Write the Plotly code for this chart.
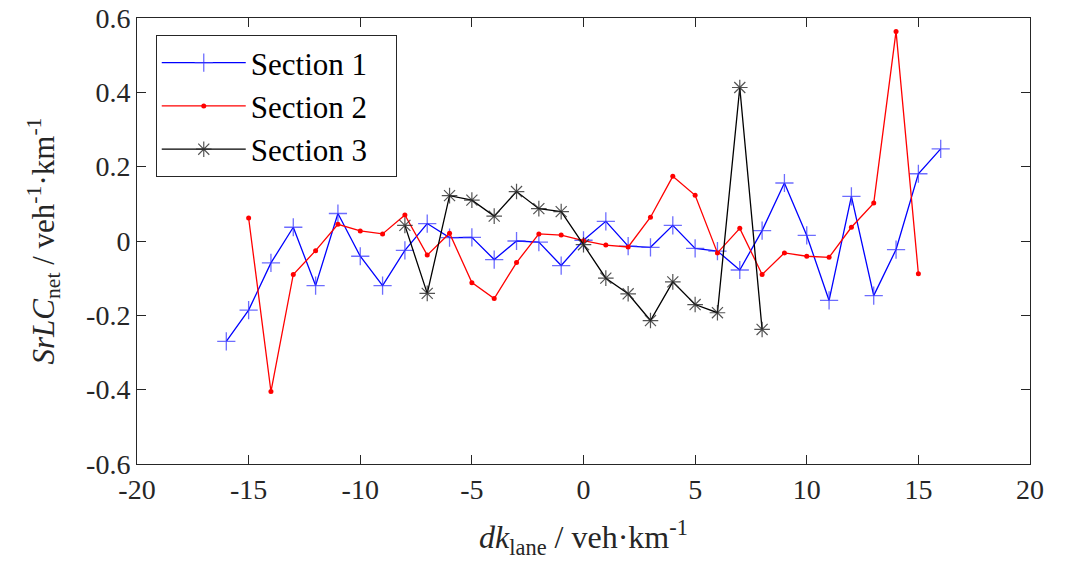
import plotly.graph_objects as go

# Data
x1 = list(range(-16, 17))
y1 = [-0.27, -0.186, -0.059, 0.037, -0.12, 0.074, -0.041, -0.12, -0.025, 0.047, 0.009, 0.01,
      -0.05, 0.0, -0.003, -0.066, 0.002, 0.053, -0.014, -0.017, 0.042, -0.02, -0.027, -0.078,
      0.028, 0.156, 0.015, -0.16, 0.12, -0.147, -0.023, 0.181, 0.248]

x2 = list(range(-15, 16))
y2 = [0.062, -0.405, -0.09, -0.026, 0.045, 0.027, 0.019, 0.07, -0.038, 0.021, -0.112, -0.155,
      -0.058, 0.019, 0.016, 0.001, -0.011, -0.016, 0.064, 0.174, 0.123, -0.032, 0.034, -0.09,
      -0.032, -0.041, -0.044, 0.037, 0.102, 0.564, -0.088]

x3 = list(range(-8, 9))
y3 = [0.042, -0.141, 0.122, 0.11, 0.067, 0.133, 0.087, 0.079, -0.01, -0.1, -0.142, -0.214,
      -0.11, -0.171, -0.193, 0.413, -0.238]

names = ["Section 1", "Section 2", "Section 3"]

xticks = [-20, -15, -10, -5, 0, 5, 10, 15, 20]
xticklabels = ["-20", "-15", "-10", "-5", "0", "5", "10", "15", "20"]
yticks = [-0.6, -0.4, -0.2, 0, 0.2, 0.4, 0.6]
yticklabels = ["-0.6", "-0.4", "-0.2", "0", "0.2", "0.4", "0.6"]

FONT = "Liberation Serif, Times New Roman, serif"
AX = "#262626"
PAD = "\u00a0\u00a0\u00a0"  # trailing room inside the legend box

fig = go.Figure()
fig.add_trace(go.Scatter(
    x=x1, y=y1, name=names[0] + PAD, mode="lines+markers", legendgroup="a",
    line=dict(color="#0000ff", width=1.3),
    marker=dict(symbol="cross-thin", size=13, line=dict(color="rgba(60,60,255,0.75)", width=1.3)),
))
fig.add_trace(go.Scatter(
    x=x2, y=y2, name=names[1] + PAD, mode="lines+markers", legendgroup="b",
    line=dict(color="#ff0000", width=1.3),
    marker=dict(symbol="circle", size=5, color="#ff0000"),
))
fig.add_trace(go.Scatter(
    x=x3, y=y3, name=names[2] + PAD, mode="lines+markers", legendgroup="c",
    line=dict(color="#000000", width=1.3),
    marker=dict(symbol="asterisk", size=13, line=dict(color="rgba(40,40,40,0.8)", width=1.2)),
))

axis_common = dict(
    showline=True, linecolor=AX, linewidth=1, mirror="ticks",
    ticks="inside", ticklen=9, tickcolor=AX, tickwidth=1,
    showgrid=False, zeroline=False, automargin=False,
    tickfont=dict(family=FONT, size=28, color=AX),
)

fig.update_layout(
    width=1065, height=569,
    margin=dict(l=137, r=35, t=18, b=105),
    paper_bgcolor="white", plot_bgcolor="white",
    font=dict(family=FONT, color=AX),
    xaxis=dict(
        range=[-20, 20], tickmode="array", tickvals=xticks, ticktext=xticklabels,
        title=dict(text="<i>dk</i><sub>lane</sub> / veh·km<sup>-1</sup>",
                   font=dict(family=FONT, size=32, color=AX), standoff=22),
        **axis_common,
    ),
    yaxis=dict(
        range=[-0.6, 0.6], tickmode="array", tickvals=yticks, ticktext=yticklabels,
        title=dict(text="<i>SrLC</i><sub>net</sub> / veh<sup>-1</sup>·km<sup>-1</sup>",
                   font=dict(family=FONT, size=31, color=AX), standoff=22),
        **axis_common,
    ),
    legend=dict(
        x=0.021, y=0.962, xanchor="left", yanchor="top",
        bgcolor="white", bordercolor=AX, borderwidth=1,
        font=dict(family=FONT, size=31, color="black"),
        tracegroupgap=0, itemwidth=84,
    ),
)

fig.write_html("out.html", config={"displayModeBar": False},
               post_script="document.body.style.margin='0';")
